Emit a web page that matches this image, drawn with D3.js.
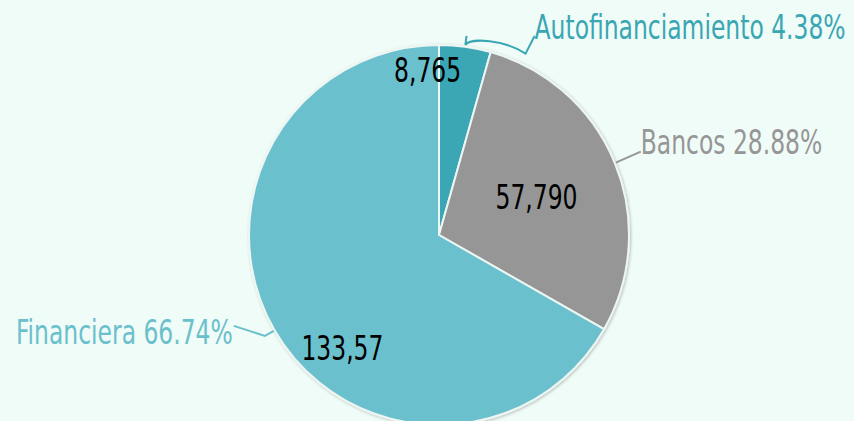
<!DOCTYPE html>
<html>
<head>
<meta charset="utf-8">
<script src="https://cdn.jsdelivr.net/npm/d3@7"></script>
<style>
  html, body { margin: 0; padding: 0; background: #f0fcf7; overflow: hidden; }
  svg { display: block; }
  text { font-family: "Liberation Sans Narrow", "DejaVu Sans Condensed", "Roboto Condensed", sans-serif; }
</style>
</head>
<body>
<div id="chart"></div>
<script>
// datos del gráfico
const categorias = ["Autofinanciamiento", "Bancos", "Financiera"];
const valores = [8765, 57790, 133570];
const porcentajes = ["4.38%", "28.88%", "66.74%"];
const etiquetasValor = ["8,765", "57,790", "133,57"];
const colores = ["#3aa6b4", "#969696", "#6ac0cc"];

const width = 854, height = 421;
const cx = 439, cy = 235, radius = 190;
const fuente = 33, estrecho = 0.79; // la fuente original es condensada

const svg = d3.select("#chart").append("svg")
    .attr("width", width)
    .attr("height", height);

svg.append("rect").attr("width", width).attr("height", height).attr("fill", "#f0fcf7");

// sombra suave del pastel
const defs = svg.append("defs");
const filtro = defs.append("filter").attr("id", "sombra")
    .attr("x", "-10%").attr("y", "-10%").attr("width", "120%").attr("height", "120%");
filtro.append("feDropShadow")
    .attr("dx", 1).attr("dy", 1).attr("stdDeviation", 1.5)
    .attr("flood-color", "#000").attr("flood-opacity", 0.25);

const datos = categorias.map((c, i) => ({
    categoria: c, valor: valores[i], pct: porcentajes[i],
    etiqueta: etiquetasValor[i], color: colores[i]
}));

const pie = d3.pie().value(d => d.valor).sort(null);
const arcos = pie(datos);

const arc = d3.arc().innerRadius(0).outerRadius(radius);

const g = svg.append("g").attr("transform", `translate(${cx},${cy})`);

g.append("g").attr("filter", "url(#sombra)")
    .selectAll("path")
    .data(arcos)
    .enter()
    .append("path")
    .attr("d", arc)
    .attr("fill", d => d.data.color)
    .attr("stroke", "#eef6f4")
    .attr("stroke-width", 2)
    .attr("stroke-linejoin", "round");

const polar = (ang, r) => [Math.sin(ang) * r, -Math.cos(ang) * r];
const mid = d => (d.startAngle + d.endAngle) / 2;

function texto(sel, x, y, txt, color, anchor) {
    return sel.append("text")
        .attr("transform", `translate(${x},${y}) scale(${estrecho},1)`)
        .attr("text-anchor", anchor || "start")
        .attr("font-size", fuente + "px")
        .attr("fill", color)
        .text(txt);
}

// etiquetas internas (valores)
const arcEtiqueta = d3.arc().innerRadius(radius * 0.6).outerRadius(radius * 0.6);
const ajuste = [[-27, -40], [-8, 17], [2, 68]];

arcos.forEach((d, i) => {
    const c = arcEtiqueta.centroid(d);
    texto(g, c[0] + ajuste[i][0], c[1] + ajuste[i][1], d.data.etiqueta, "#000", "middle");
});

// etiquetas externas con conectores
const ext = svg.append("g");

// Autofinanciamiento
{
    const d = arcos[0];
    const p0 = polar(mid(d), radius + 11);
    const p1 = polar(mid(d), radius + 2);
    const c1 = polar(mid(d) + 0.02, radius + 10);
    const c2 = polar(d.endAngle + 0.05, radius + 16);
    const p2 = polar(d.endAngle + 0.17, radius + 11);
    const tx = cx + p2[0] + 9, ty = 38;
    const path = d3.path();
    path.moveTo(cx + p0[0], cy + p0[1]);
    path.lineTo(cx + p1[0], cy + p1[1]);
    path.bezierCurveTo(cx + c1[0], cy + c1[1], cx + c2[0], cy + c2[1], cx + p2[0], cy + p2[1]);
    path.lineTo(tx, ty - 2);
    ext.append("path").attr("d", path.toString())
        .attr("fill", "none").attr("stroke", d.data.color).attr("stroke-width", 2);
    texto(ext, tx, ty + 1, `${d.data.categoria} ${d.data.pct}`, d.data.color);
}

// Bancos
{
    const d = arcos[1];
    const p = polar(mid(d), radius + 1);
    const tx = cx + p[0] + 25, ty = cy + p[1] - 11;
    ext.append("path")
        .attr("d", `M${cx + p[0]},${cy + p[1]}L${tx},${ty}`)
        .attr("fill", "none").attr("stroke", d.data.color).attr("stroke-width", 2);
    texto(ext, tx, ty + 2, `${d.data.categoria} ${d.data.pct}`, d.data.color);
}

// Financiera
{
    const d = arcos[2];
    const p = polar(mid(d), radius + 1);
    const ex = cx + p[0] - 9, ey = cy + p[1] + 5;
    const tx = ex - 31, ty = ey - 10;
    ext.append("path")
        .attr("d", `M${cx + p[0]},${cy + p[1]}L${ex},${ey}L${tx},${ty}`)
        .attr("fill", "none").attr("stroke", d.data.color).attr("stroke-width", 2);
    texto(ext, tx - 1, ty + 18, `${d.data.categoria} ${d.data.pct}`, d.data.color, "end");
}
</script>
</body>
</html>
